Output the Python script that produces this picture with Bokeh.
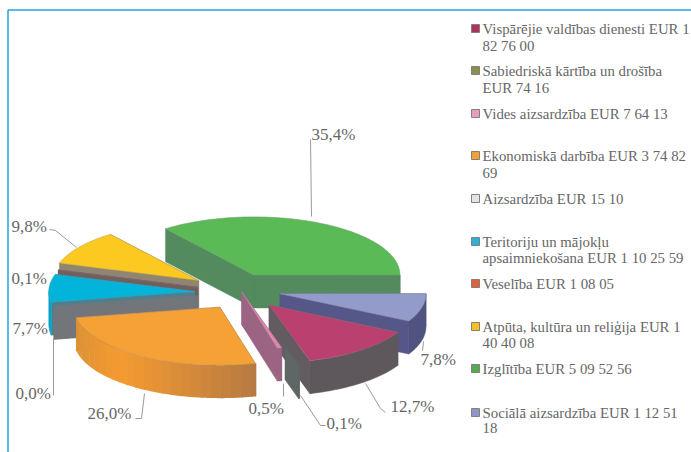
import numpy as np
from bokeh.plotting import figure
from bokeh.models import Range1d
from bokeh.core.properties import value
from bokeh.embed import file_html
from bokeh.resources import INLINE

# ---------- data ----------
categories = ["Vispārējie valdības dienesti", "Sabiedriskā kārtība un drošība", "Vides aizsardzība",
              "Ekonomiskā darbība", "Aizsardzība", "Teritoriju un mājokļu apsaimniekošana",
              "Veselība", "Atpūta, kultūra un reliģija", "Izglītība", "Sociālā aizsardzība"]
shares = [12.7, 0.1, 0.5, 26.0, 0.0, 7.7, 0.1, 9.8, 35.4, 7.8]
share_labels = ["12,7%", "0,1%", "0,5%", "26,0%", "0,0%", "7,7%", "0,1%", "9,8%", "35,4%", "7,8%"]
legend_lines = [["Vispārējie valdības dienesti EUR 1", "82 76 00"],
                ["Sabiedriskā kārtība un drošība", "EUR 74 16"],
                ["Vides aizsardzība EUR 7 64 13"],
                ["Ekonomiskā darbība EUR 3 74 82", "69"],
                ["Aizsardzība EUR 15 10"],
                ["Teritoriju un mājokļu", "apsaimniekošana EUR 1 10 25 59"],
                ["Veselība EUR 1 08 05"],
                ["Atpūta, kultūra un reliģija EUR 1", "40 40 08"],
                ["Izglītība EUR 5 09 52 56"],
                ["Sociālā aizsardzība EUR 1 12 51", "18"]]

# ---------- style / layout ----------
top_colors = ["#B9406F", "#8A8A5A", "#E086AE", "#F5A136", "#8A8D90",
              "#02B4DA", "#7A4C52", "#FBC91F", "#5ABA56", "#939BCB"]
side_colors = ["#625B60", "#5F6665", "#9A6482", "#C98A3E", "#72767A",
               "#4F7F8F", "#6F5F5F", "#8F8570", "#538B5F", "#555789"]
outer_colors = ["#5E585C", "#5F6665", "#9A6482", None, "#72767A",
                "#00A5C8", "#6F5F5F", "#8F8570", "#538B5F", "#50527F"]
swatch_colors = ["#B03060", "#8E8E4E", "#E89CC0", "#F5A030", "#E4E4E4",
                 "#2FB0D8", "#E0603A", "#F5C020", "#55AA50", "#8F96C8"]
explode = [0.30, 0.40, 0.06, 0.30, 0.30, 0.30, 0.30, 0.30, 0.30, 0.30]
nudge = [(6, 1), (7, -3), (4, -2), (8, 2), (5, 2), (3, 2), (4, 2), (-1, 0), (-1, 0), (2, -1)]
inner_cut = [0, 0.66, 0, 0, 0, 0, 0, 0, 0, 0]   # hidden inner part of a sliver's wall
paint_order = [8, 7, 6, 5, 4, 9, 0, 1, 2, 3]
first_angle = -28.1
CX, CY, RX, RY, DEPTH = 235.0, 290.0, 146.0, 58.0, 33.0
FRAME = "#1CA7E0"
TEXT = "#666666"
SERIF = "Liberation Serif"

label_xy = [(390, 406), (326, 423), (248, 408), (87, 413), (15, 393),
            (12, 328), (11, 278), (11, 226), (311, 134), (420, 359)]
leaders = [[(385, 412), (380, 408), (365, 383)],
           [(325, 425), (320, 425), (300, 395)],
           [(283, 396), (283, 383)],
           [(135, 418), (141, 418), (144, 393)],
           [(53, 395), (53, 338)],
           [(49, 229), (55, 230), (76, 247)],
           [(310, 139), (311, 216)],
           [(423, 341), (422, 350)]]
legend_y = [[28, 45], [70, 87], [113], [155, 172], [198],
            [241, 257], [283], [326, 342], [368], [412, 427]]

W, H = 691, 452
p = figure(width=W, height=H, output_backend="svg", toolbar_location=None,
           x_range=Range1d(0, W), y_range=Range1d(H, 0),
           min_border=0, outline_line_color=None)
p.axis.visible = False
p.grid.visible = False

# frame lines
p.segment([7.5, 7.5], [9.5, 9.5], [691, 7.5], [9.5, 452], line_color=FRAME, line_width=1.5)

# slice angles from values
total = sum(shares)
sweeps = np.array(shares) / total * 360.0
starts = first_angle - np.concatenate(([0.0], np.cumsum(sweeps)[:-1]))
ends = starts - sweeps


def mix(a, b, f):
    ca = [int(a[i:i + 2], 16) for i in (1, 3, 5)]
    cb = [int(b[i:i + 2], 16) for i in (1, 3, 5)]
    return "#%02x%02x%02x" % tuple(int(round(x + (y - x) * f)) for x, y in zip(ca, cb))


def arc(ax, ay, a0, a1):
    n = max(2, int(abs(a1 - a0)) + 2)
    t = np.radians(np.linspace(a0, a1, n))
    return ax + RX * np.cos(t), ay - RY * np.sin(t)


for i in paint_order:
    s, e = starts[i], ends[i]
    mid = np.radians((s + e) / 2)
    ax = CX + explode[i] * RX * np.cos(mid) + nudge[i][0]
    ay = CY - explode[i] * RY * np.sin(mid) + nudge[i][1]
    mx, my = RX * np.cos(mid), -RY * np.sin(mid)

    # radial walls: the back-facing one first
    walls = []
    for ang in (s, e):
        r = np.radians(ang)
        dx, dy = RX * np.cos(r), -RY * np.sin(r)
        px, py = ax + dx, ay + dy
        cross = dx * my - dy * mx
        front = (cross * (1 if dx >= 0 else -1)) < 0 if sweeps[i] > 0.01 else True
        walls.append((front, px, py, ax + inner_cut[i] * dx, ay + inner_cut[i] * dy))
    walls.sort(key=lambda w: w[0])
    for _, px, py, qx, qy in walls:
        p.patch([qx, px, px, qx], [qy, py, py + DEPTH, qy + DEPTH],
                fill_color=side_colors[i], line_color=side_colors[i], line_width=0.5)

    # curved outer wall, front part only
    lo, hi = e, s
    for k in (-1, 0):
        f0 = max(lo, -180 + 360 * k)
        f1 = min(hi, 0 + 360 * k)
        if f1 - f0 <= 0:
            continue
        if outer_colors[i] is None:
            edges = np.arange(f0, f1, 4.0).tolist() + [f1]
            for a0, a1 in zip(edges[:-1], edges[1:]):
                x0, _ = arc(ax, ay, a0, a1)
                xm = (x0.mean() - 75) / (257 - 75)
                col = mix("#DD9236", "#F59B30", xm / 0.25) if xm < 0.25 else mix("#F59B30", "#B57A42", (xm - 0.25) / 0.75)
                xa, ya = arc(ax, ay, a0, a1 + 0.4)
                p.patch(np.r_[xa, xa[::-1]], np.r_[ya, ya[::-1] + DEPTH],
                        fill_color=col, line_color=None)
        else:
            xa, ya = arc(ax, ay, f0, f1)
            p.patch(np.r_[xa, xa[::-1]], np.r_[ya, ya[::-1] + DEPTH],
                    fill_color=outer_colors[i], line_color=outer_colors[i], line_width=0.5)

    # top face
    if sweeps[i] > 0.01 and inner_cut[i] == 0:
        xa, ya = arc(ax, ay, s, e)
        p.patch(np.r_[ax, xa], np.r_[ay, ya], fill_color=top_colors[i],
                line_color=mix(top_colors[i], "#888888", 0.5), line_width=0.6)

# leader lines
p.multi_line([[q[0] for q in l] for l in leaders], [[q[1] for q in l] for l in leaders],
             line_color="#9A9A9A", line_width=1)

# percentage labels
p.text([q[0] for q in label_xy], [q[1] for q in label_xy], text=share_labels,
       text_font=value(SERIF), text_font_size="17px", text_color=TEXT,
       text_align="left", text_baseline="middle")

# legend
tx, ty, tt = [], [], []
for lines, ys in zip(legend_lines, legend_y):
    for l, y in zip(lines, ys):
        tx.append(482); ty.append(y); tt.append(l)
p.text(tx, ty, text=tt, text_font=value(SERIF), text_font_size="14.8px", text_color=TEXT,
       text_align="left", text_baseline="middle")
p.scatter([475] * len(categories), [ys[0] for ys in legend_y], marker="square", size=8,
          fill_color=swatch_colors, line_color="#808080", line_width=1)

open("out.html", "w").write(file_html(p, INLINE))
